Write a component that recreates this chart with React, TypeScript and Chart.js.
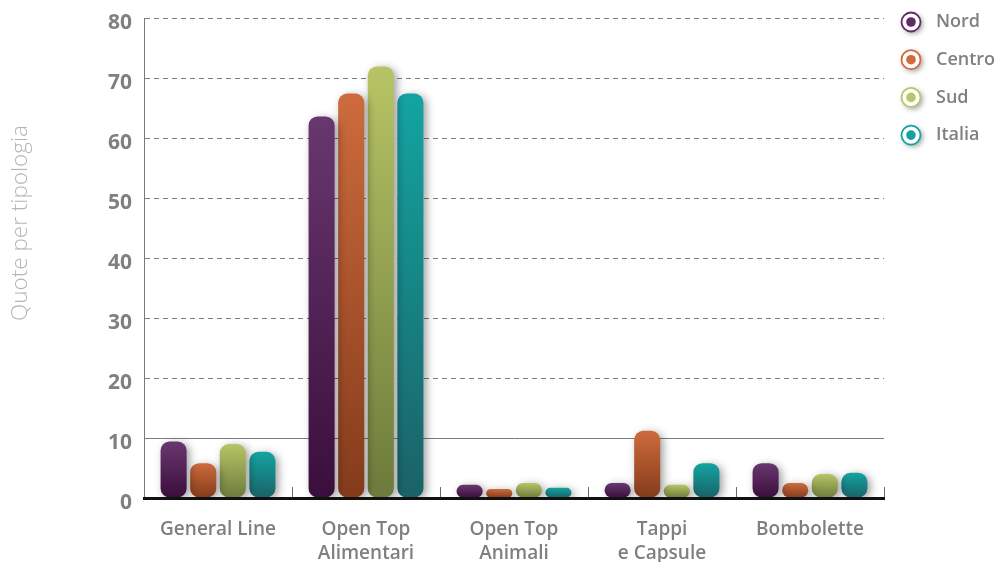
import { useEffect, useRef } from "react";
import { Chart, registerables } from "chart.js";

Chart.register(...registerables);

const categories: (string | string[])[] = [
  "General Line",
  ["Open Top", "Alimentari"],
  ["Open Top", "Animali"],
  ["Tappi", "e Capsule"],
  "Bombolette",
];
const seriesNames = ["Nord", "Centro", "Sud", "Italia"];
const nordValues = [9.4, 63.6, 2.2, 2.5, 5.8];
const centroValues = [5.8, 67.4, 1.5, 11.2, 2.5];
const sudValues = [9.0, 71.9, 2.5, 2.2, 4.0];
const italiaValues = [7.7, 67.4, 1.7, 5.8, 4.2];
const yTickMin = 0;
const yTickMax = 80;
const yTickStep = 10;
const yTitle = "Quote per tipologia";

const topColors = ["#69376f", "#cd6b3d", "#b7c465", "#13a4a1"];
const bottomColors = ["#3a0e3c", "#843b1b", "#6c7b3c", "#1a6267"];
const legendColors = ["#5e2b66", "#d26a3b", "#b9c566", "#12a3a1"];

export default function App() {
  const ref = useRef<HTMLCanvasElement | null>(null);

  useEffect(() => {
    document.body.style.margin = "0";
    const canvas = ref.current;
    if (!canvas) return;
    const allValues = [nordValues, centroValues, sudValues, italiaValues];

    const makeGradient = (i: number) => (context: any) => {
      const chart = context.chart;
      const y = chart.scales?.y;
      if (!y || context.raw == null) return topColors[i];
      const top = y.getPixelForValue(context.raw);
      const base = y.getPixelForValue(0);
      if (!isFinite(top) || !isFinite(base) || top === base) return topColors[i];
      const g = chart.ctx.createLinearGradient(0, top, 0, base);
      g.addColorStop(0, topColors[i]);
      g.addColorStop(1, bottomColors[i]);
      return g;
    };

    const shadowPlugin = {
      id: "barShadow",
      beforeDatasetsDraw(chart: any) {
        const ctx = chart.ctx;
        ctx.save();
        ctx.shadowColor = "rgba(0,0,0,0.38)";
        ctx.shadowBlur = 8;
        ctx.shadowOffsetX = 3;
        ctx.shadowOffsetY = 2;
      },
      afterDatasetsDraw(chart: any) {
        chart.ctx.restore();
        const ctx = chart.ctx;
        const x = chart.scales.x;
        const area = chart.chartArea;
        ctx.save();
        ctx.strokeStyle = "#6a6a6a";
        ctx.lineWidth = 1;
        const n = chart.data.labels.length;
        for (let i = 1; i <= n; i++) {
          const px =
            i < n
              ? (x.getPixelForValue(i - 1) + x.getPixelForValue(i)) / 2
              : area.right;
          ctx.beginPath();
          ctx.moveTo(Math.round(px) + 0.5, area.bottom - 11);
          ctx.lineTo(Math.round(px) + 0.5, area.bottom);
          ctx.stroke();
        }
        ctx.restore();
      },
    };

    const extrasPlugin = {
      id: "extras",
      afterDraw(chart: any) {
        const ctx = chart.ctx;
        // y title
        ctx.save();
        ctx.translate(21, 223);
        ctx.rotate(-Math.PI / 2);
        ctx.font = "300 22.5px 'Open Sans'";
        ctx.fillStyle = "#b5b5b5";
        ctx.textAlign = "center";
        ctx.textBaseline = "middle";
        ctx.fillText(yTitle, 0, 0);
        ctx.restore();
        // legend
        chart.data.datasets.forEach((ds: any, i: number) => {
          const cx = 911;
          const cy = 22 + i * 37.7;
          ctx.save();
          ctx.shadowColor = "rgba(0,0,0,0.35)";
          ctx.shadowBlur = 5;
          ctx.shadowOffsetX = 2;
          ctx.shadowOffsetY = 2;
          ctx.beginPath();
          ctx.arc(cx, cy, 10, 0, Math.PI * 2);
          ctx.fillStyle = "#ffffff";
          ctx.fill();
          ctx.restore();
          ctx.beginPath();
          ctx.arc(cx, cy, 9.5, 0, Math.PI * 2);
          ctx.strokeStyle = legendColors[i];
          ctx.lineWidth = 1.8;
          ctx.stroke();
          ctx.beginPath();
          ctx.arc(cx, cy, 4.8, 0, Math.PI * 2);
          ctx.fillStyle = legendColors[i];
          ctx.fill();
          ctx.font = "600 18px 'Open Sans'";
          ctx.fillStyle = "#808080";
          ctx.textAlign = "left";
          ctx.textBaseline = "middle";
          ctx.fillText(ds.label, 936, cy);
        });
      },
    };

    const chart = new Chart(canvas, {
      type: "bar",
      data: {
        labels: categories,
        datasets: seriesNames.map((name, i) => ({
          label: name,
          data: allValues[i],
          backgroundColor: makeGradient(i),
          borderWidth: 0,
          borderRadius: 9,
          borderSkipped: false,
          categoryPercentage: 0.8,
          barPercentage: 0.88,
        })),
      },
      options: {
        responsive: false,
        animation: false,
        layout: { padding: { left: 0, top: 18, right: 114, bottom: 0 } },
        plugins: {
          legend: { display: false },
          tooltip: { enabled: false },
        },
        scales: {
          x: {
            grid: { display: false },
            border: { display: true, color: "#111111", width: 3, z: 1 },
            ticks: {
              autoSkip: false,
              maxRotation: 0,
              padding: 12,
              color: "#7f7f7f",
              font: { family: "'Open Sans'", size: 19, weight: "600", lineHeight: 1.25 },
            },
            afterFit(scale: any) {
              scale.height = 64;
              scale.paddingLeft = 0;
              scale.paddingRight = 0;
            },
          },
          y: {
            min: yTickMin,
            max: yTickMax,
            ticks: {
              stepSize: yTickStep,
              padding: 12,
              labelOffset: 5,
              color: "#808080",
              font: { family: "'Open Sans'", size: 21, weight: "700" },
            },
            grid: {
              drawTicks: false,
              lineWidth: 1,
              color: (c: any) =>
                c.tick && c.tick.value === 0 ? "rgba(0,0,0,0)" : "#7d7d7d",
            },
            border: {
              display: true,
              color: "#7a7a7a",
              width: 1,
              dash: (c: any) =>
                c.tick && c.tick.value !== 10 ? [5, 4] : [],
            },
            afterFit(scale: any) {
              scale.width = 144;
              scale.paddingTop = 0;
              scale.paddingBottom = 0;
            },
          },
        },
      },
      plugins: [shadowPlugin, extrasPlugin],
    } as any);

    return () => chart.destroy();
  }, []);

  return (
    <div style={{ width: 998, height: 562 }}>
      <canvas ref={ref} width={998} height={562} style={{ display: "block" }} />
    </div>
  );
}
